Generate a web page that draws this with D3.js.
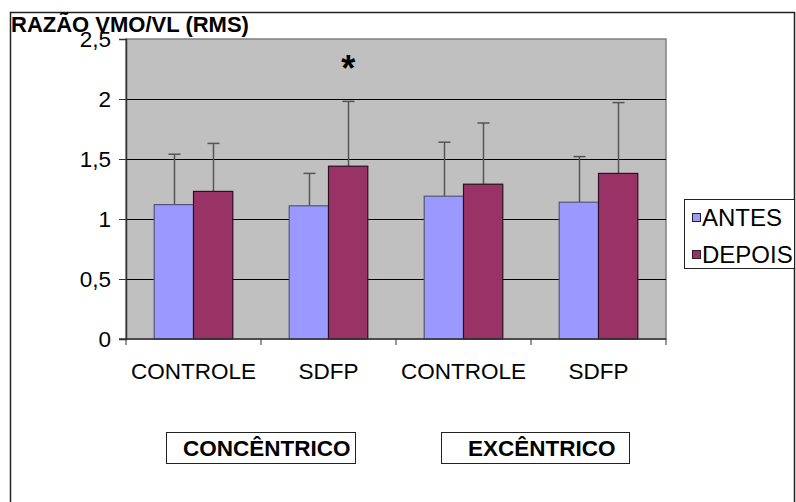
<!DOCTYPE html>
<html>
<head>
<meta charset="utf-8">
<script src="https://cdn.jsdelivr.net/npm/d3@7"></script>
<style>
  body{margin:0;background:#fff;}
  svg{display:block;font-family:Arial,"Liberation Sans",sans-serif;}
</style>
</head>
<body>
<svg id="chart" width="796" height="502"></svg>
<script>
const categories = ["CONTROLE","SDFP","CONTROLE","SDFP"];
const series = ["ANTES","DEPOIS"];
const antes = [1.12,1.11,1.19,1.14];
const depois = [1.23,1.44,1.29,1.38];
const antesSd = [0.42,0.27,0.45,0.38];
const depoisSd = [0.40,0.54,0.51,0.59];
const yTicks = [0,0.5,1,1.5,2,2.5];
const groups = ["CONCÊNTRICO","EXCÊNTRICO"];
const starIndex = 1;

const COLOR = {ANTES:"#9999ff", DEPOIS:"#993366"};

const plot = {left:126, right:666, top:39, bottom:339};

const svg = d3.select("#chart");

// outer frame
svg.append("rect")
  .attr("x",10.5).attr("y",12.5)
  .attr("width",784).attr("height",520)
  .attr("fill","#fff")
  .attr("stroke","#222")
  .attr("stroke-width",1.5);

const x = d3.scaleBand()
  .domain(d3.range(categories.length))
  .range([plot.left,plot.right]);

const xi = d3.scaleBand()
  .domain(series)
  .range([0,x.bandwidth()])
  .paddingOuter(0.718);

const y = d3.scaleLinear()
  .domain([0,2.5])
  .range([plot.bottom,plot.top]);

// plot background
svg.append("rect")
  .attr("x",plot.left).attr("y",plot.top)
  .attr("width",plot.right-plot.left)
  .attr("height",plot.bottom-plot.top)
  .attr("fill","#c0c0c0")
  .attr("stroke","#808080")
  .attr("stroke-width",1.5);

// gridlines
svg.append("g")
  .selectAll("line")
  .data(yTicks.filter(d=>d>0 && d<2.5))
  .join("line")
  .attr("x1",plot.left).attr("x2",plot.right)
  .attr("y1",d=>Math.round(y(d))+0.5)
  .attr("y2",d=>Math.round(y(d))+0.5)
  .attr("stroke","#000")
  .attr("stroke-width",1);

// data table
const rows = categories.map((c,i)=>({
  i,
  vals:[
    {key:"ANTES", v:antes[i], sd:antesSd[i]},
    {key:"DEPOIS", v:depois[i], sd:depoisSd[i]}
  ]
}));

const grp = svg.append("g")
  .selectAll("g")
  .data(rows)
  .join("g")
  .attr("transform",d=>`translate(${x(d.i)},0)`);

// error bars (plus only)
grp.selectAll(".err")
  .data(d=>d.vals)
  .join("g")
  .attr("class","err")
  .each(function(d){
    const cx = Math.round(xi(d.key)+xi.bandwidth()/2)+0.5;
    const g = d3.select(this);
    g.append("line")
      .attr("x1",cx).attr("x2",cx)
      .attr("y1",y(d.v)).attr("y2",y(d.v+d.sd))
      .attr("stroke","#555").attr("stroke-width",1.5);
    g.append("line")
      .attr("x1",cx-6).attr("x2",cx+6)
      .attr("y1",y(d.v+d.sd)).attr("y2",y(d.v+d.sd))
      .attr("stroke","#555").attr("stroke-width",1.5);
  });

// bars
grp.selectAll("rect")
  .data(d=>d.vals)
  .join("rect")
  .attr("x",d=>xi(d.key))
  .attr("y",d=>y(d.v))
  .attr("width",xi.bandwidth())
  .attr("height",d=>y(0)-y(d.v))
  .attr("fill",d=>COLOR[d.key])
  .attr("stroke",d=>d.key==="ANTES" ? "#555577" : "#2a1020")
  .attr("stroke-width",1.2);

// asterisk
svg.append("text")
  .attr("x",x(starIndex)+xi("DEPOIS")+xi.bandwidth()/2)
  .attr("y",y(depois[starIndex]+depoisSd[starIndex])-20)
  .attr("text-anchor","middle")
  .attr("font-size",36)
  .attr("font-weight","bold")
  .text("*");

// y axis
const yAxis = svg.append("g")
  .attr("transform",`translate(${plot.left},0)`)
  .call(d3.axisLeft(y).tickValues(yTicks).tickSize(7).tickPadding(8)
    .tickFormat(d=>String(d).replace(".",",")));
yAxis.select(".domain").attr("stroke","#333").attr("stroke-width",1.5);
yAxis.selectAll(".tick line").attr("stroke","#333");
yAxis.selectAll("text").attr("font-size",22.5).attr("fill","#000")
  .attr("font-family","Arial, 'Liberation Sans', sans-serif");

// x axis
const xAxisG = svg.append("g")
  .attr("transform",`translate(0,${plot.bottom})`);
xAxisG.append("line")
  .attr("x1",plot.left-7).attr("x2",plot.right)
  .attr("stroke","#333").attr("stroke-width",1.5);
xAxisG.selectAll(".tk")
  .data(d3.range(categories.length+1))
  .join("line")
  .attr("x1",d=>plot.left+d*x.step()).attr("x2",d=>plot.left+d*x.step())
  .attr("y1",0).attr("y2",6)
  .attr("stroke","#333");
xAxisG.selectAll(".lbl")
  .data(categories)
  .join("text")
  .attr("x",(d,i)=>x(i)+x.bandwidth()/2)
  .attr("y",40)
  .attr("text-anchor","middle")
  .attr("font-size",22.5)
  .text(d=>d);

// title
svg.append("text")
  .attr("x",11).attr("y",32)
  .attr("font-size",22)
  .attr("font-weight","bold")
  .text("RAZÃO VMO/VL (RMS)");

// group boxes
const boxes = [
  {x:166, w:189, tx:183},
  {x:441, w:188, tx:468}
];
groups.forEach((gname,k)=>{
  svg.append("rect")
    .attr("x",boxes[k].x+0.5).attr("y",432.5)
    .attr("width",boxes[k].w).attr("height",31)
    .attr("fill","#fff").attr("stroke","#222");
  svg.append("text")
    .attr("x",boxes[k].tx).attr("y",456)
    .attr("font-size",22.5)
    .attr("font-weight","bold")
    .text(gname);
});

// legend
const lg = svg.append("g");
lg.append("rect")
  .attr("x",684.5).attr("y",199.5)
  .attr("width",110).attr("height",69)
  .attr("fill","#fff").attr("stroke","#222");
series.forEach((s,k)=>{
  const yy = 226 + k*37;
  lg.append("rect")
    .attr("x",692.5).attr("y",yy-12.5)
    .attr("width",8).attr("height",8)
    .attr("fill",COLOR[s]).attr("stroke","#222");
  lg.append("text")
    .attr("x",702).attr("y",yy)
    .attr("font-size",24)
    .text(s);
});
</script>
</body>
</html>
